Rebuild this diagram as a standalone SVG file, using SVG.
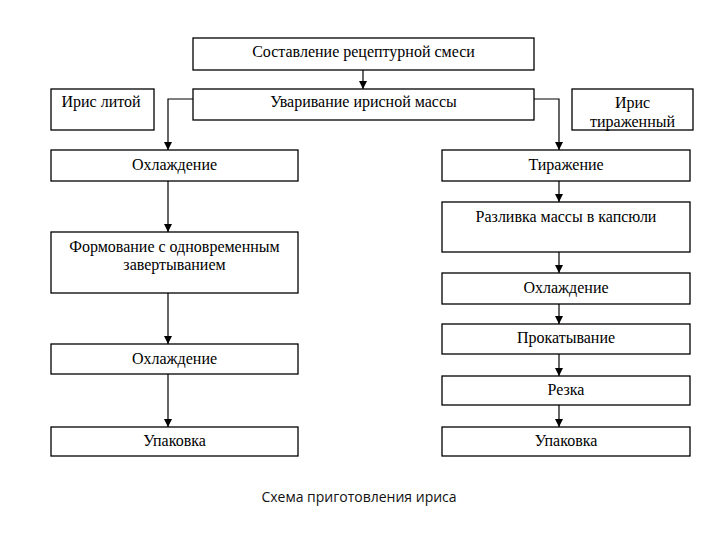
<svg xmlns="http://www.w3.org/2000/svg" width="720" height="540" viewBox="0 0 720 540">
<defs>
<style>
.box{fill:#fff;stroke:#000;stroke-width:1.3}
.t{font-family:"Liberation Serif","Times New Roman",serif;font-size:16px;fill:#000;text-anchor:middle}
.c{fill:none;stroke:#000;stroke-width:1.2}
.cap{font-family:"Open Sans","Noto Sans",sans-serif;font-size:14px;fill:#111;text-anchor:middle}
</style>
<marker id="ah" markerUnits="userSpaceOnUse" markerWidth="8" markerHeight="8" refX="8" refY="4" orient="auto">
<path d="M0,0 L8,4 L0,8 z" fill="#000"/>
</marker>
</defs>
<rect width="720" height="540" fill="#fff"/>
<g id="connectors">
<path class="c" d="M363,70 V89" marker-end="url(#ah)"/>
<path class="c" d="M193,99 H168 V150" marker-end="url(#ah)"/>
<path class="c" d="M534,99 H559 V150" marker-end="url(#ah)"/>
<path class="c" d="M168,181 V232" marker-end="url(#ah)"/>
<path class="c" d="M168,293 V344" marker-end="url(#ah)"/>
<path class="c" d="M168,374 V427" marker-end="url(#ah)"/>
<path class="c" d="M559,181 V202" marker-end="url(#ah)"/>
<path class="c" d="M559,252 V273" marker-end="url(#ah)"/>
<path class="c" d="M559,304 V324" marker-end="url(#ah)"/>
<path class="c" d="M559,354 V376" marker-end="url(#ah)"/>
<path class="c" d="M559,405 V427" marker-end="url(#ah)"/>
</g>
<g id="n-sostav"><rect class="box" x="193" y="38" width="341" height="32"/><text class="t" x="363.5" y="57">Составление рецептурной смеси</text></g>
<g id="n-iris-lit"><rect class="box" x="51" y="89" width="103" height="41"/><text class="t" x="101" y="107">Ирис литой</text></g>
<g id="n-uvar"><rect class="box" x="193" y="89" width="341" height="31"/><text class="t" x="363.5" y="107">Уваривание ирисной массы</text></g>
<g id="n-iris-tir"><rect class="box" x="572" y="89" width="121" height="41"/><text class="t" x="632.5" y="108">Ирис</text><text class="t" x="632.5" y="127">тираженный</text></g>
<g id="n-ohl1"><rect class="box" x="51" y="150" width="247" height="31"/><text class="t" x="174.5" y="170">Охлаждение</text></g>
<g id="n-tir"><rect class="box" x="442" y="150" width="248" height="31"/><text class="t" x="566" y="170">Тиражение</text></g>
<g id="n-razl"><rect class="box" x="442" y="202" width="248" height="50"/><text class="t" x="566" y="222">Разливка массы в капсюли</text></g>
<g id="n-form"><rect class="box" x="51" y="232" width="247" height="61"/><text class="t" x="174.5" y="252">Формование с одновременным</text><text class="t" x="174.5" y="270">завертыванием</text></g>
<g id="n-ohl-r"><rect class="box" x="442" y="273" width="248" height="31"/><text class="t" x="566" y="293">Охлаждение</text></g>
<g id="n-prok"><rect class="box" x="442" y="324" width="248" height="30"/><text class="t" x="566" y="343">Прокатывание</text></g>
<g id="n-ohl2"><rect class="box" x="51" y="344" width="247" height="30"/><text class="t" x="174.5" y="364">Охлаждение</text></g>
<g id="n-rezka"><rect class="box" x="442" y="376" width="248" height="29"/><text class="t" x="566" y="395">Резка</text></g>
<g id="n-upak-l"><rect class="box" x="51" y="427" width="247" height="29"/><text class="t" x="174.5" y="446">Упаковка</text></g>
<g id="n-upak-r"><rect class="box" x="442" y="427" width="248" height="29"/><text class="t" x="566" y="446">Упаковка</text></g>
<text class="cap" x="359" y="502">Схема приготовления ириса</text>
</svg>
